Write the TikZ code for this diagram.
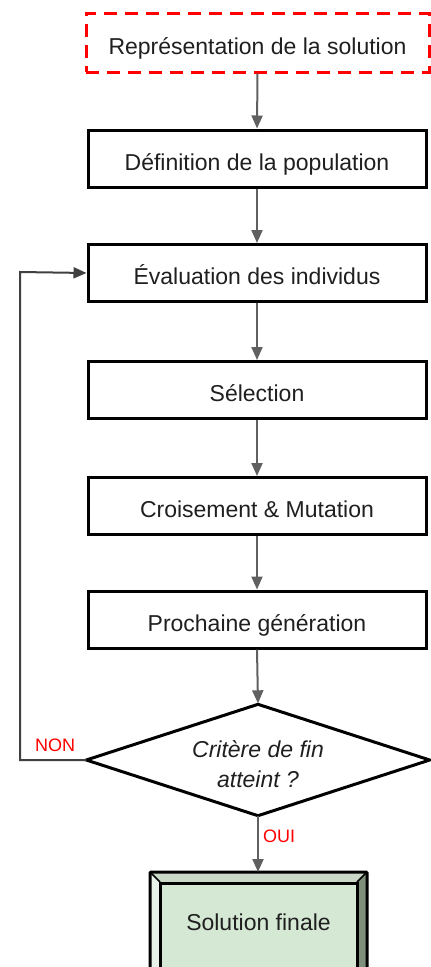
\documentclass[tikz,border=0pt]{standalone}
\usepackage{fontspec}
\setmainfont{Liberation Sans}
\usetikzlibrary{shapes.geometric,arrows.meta}
\definecolor{arrgray}{HTML}{606060}
\definecolor{fgreen}{HTML}{D5E8D4}
\definecolor{bevlight}{HTML}{E9F2E8}
\definecolor{bevtop}{HTML}{C9D8C7}
\definecolor{bevdark}{HTML}{7E8F7C}
\tikzset{
  x=1pt,y=1pt,
  txt/.style={font=\fontsize{23}{29}\selectfont, text=black!88},
  stepbox/.style={txt, draw=black, line width=3pt, minimum width=338pt, minimum height=57pt, inner sep=0pt, text height=23pt, text depth=0pt},
  startbox/.style={txt, draw=red, line width=3pt, dash pattern=on 13pt off 8pt, minimum width=343pt, minimum height=59pt, inner sep=0pt, text height=23pt, text depth=0pt},
  decision/.style={txt, rectangle, minimum width=343pt, minimum height=111pt, inner sep=0pt, align=center, font=\fontsize{23}{30}\selectfont\itshape},
  dshape/.style={draw=black, line width=3pt, line join=miter},
  flow/.style={draw=arrgray, line width=2pt, -{Triangle[length=13pt,width=11pt]}},
  loop/.style={draw=black!75, line width=2pt, -{Triangle[length=13pt,width=11pt]}},
  lbl/.style={text=red, font=\fontsize{18}{20}\selectfont, inner sep=0pt}
}
\begin{document}
\begin{tikzpicture}
\useasboundingbox (0,0) rectangle (431,-967);
\node[startbox] (rep) at (257.5,-42.5) {Représentation de la solution};
\node[stepbox] (def) at (257,-158.5) {Définition de la population};
\node[stepbox] (eval) at (257,-273) {Évaluation des individus};
\node[stepbox] (sel) at (257,-390) {Sélection};
\node[stepbox] (cro) at (257,-506) {Croisement \& Mutation};
\node[stepbox] (gen) at (257,-619.5) {Prochaine génération};
\node[decision] (crit) at (258,-760) {};
\draw[dshape] (crit.north) -- (crit.east) -- (crit.south) -- (crit.west) -- cycle;
\node[txt, align=center, font=\fontsize{23}{30}\selectfont\itshape] (crittxt) at (258,-764) {Critère de fin\\atteint ?};
% final bevelled box
\coordinate (fo1) at (150,-872);
\coordinate (fo2) at (367,-985);
\fill[bevtop] (150,-872) -- (367,-872) -- (357,-882) -- (160,-882) -- cycle;
\fill[bevlight] (150,-872) -- (160,-882) -- (160,-975) -- (150,-985) -- cycle;
\fill[bevdark] (367,-872) -- (357,-882) -- (357,-975) -- (367,-985) -- cycle;
\fill[bevdark] (150,-985) -- (160,-975) -- (357,-975) -- (367,-985) -- cycle;
\draw[line width=1.5pt] (150,-872) -- (160,-882) (367,-872) -- (357,-882);
\draw[line width=3pt, rounded corners=1pt] (fo1) rectangle (fo2);
\node[txt, draw=black, line width=3pt, fill=fgreen, minimum width=197pt, minimum height=93pt, inner sep=0pt, anchor=north] (fin) at (258.5,-882) {};
\node[txt] (fintxt) at (258.5,-922) {Solution finale};
% connectors
\draw[flow] (rep.south) -- (def.north);
\draw[flow] (def.south) -- (eval.north);
\draw[flow] (eval.south) -- (sel.north);
\draw[flow] (sel.south) -- (cro.north);
\draw[flow] (cro.south) -- (gen.north);
\draw[flow] (gen.south) -- ([yshift=1pt]crit.north);
\draw[flow] (crit.south) -- (fo1 -| crit.south);
\coordinate (lp1) at (20,-760);
\coordinate (lp2) at (20,-272);
\draw[loop] (crit.west) -- (lp1) -- (lp2) -- (eval.west);
\node[lbl, anchor=south west] (non) at (35,-752) {NON};
\node[lbl, anchor=west] (oui) at (263,-836) {OUI};
\end{tikzpicture}
\end{document}
